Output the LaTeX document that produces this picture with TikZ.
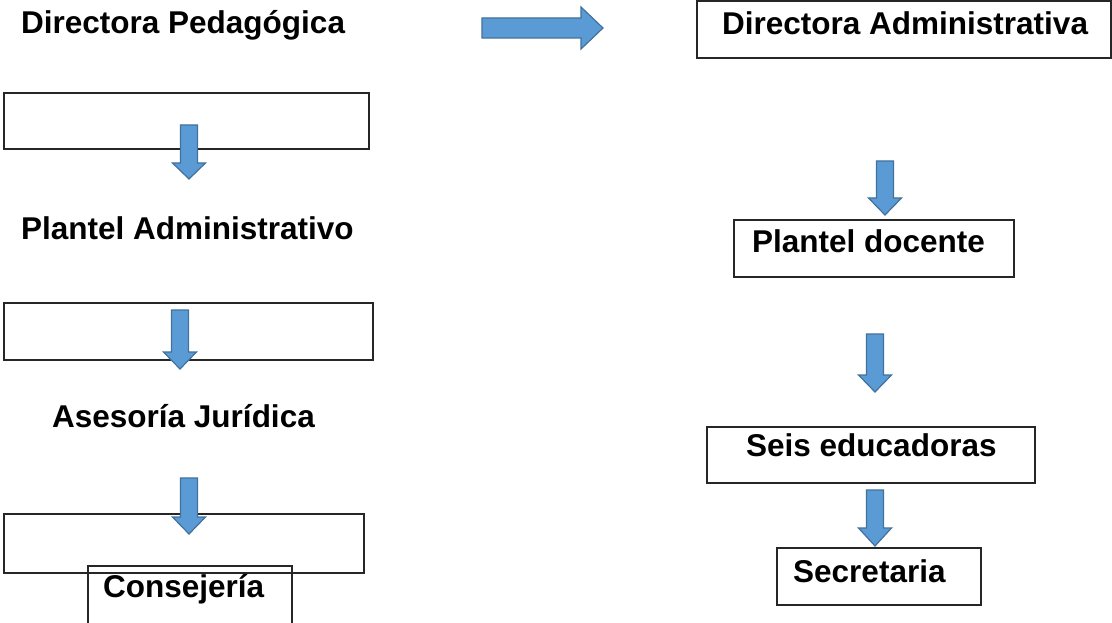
\documentclass[tikz,border=0pt]{standalone}
\usepackage{fontspec}
\setmainfont{Liberation Sans}
\definecolor{arrowfill}{HTML}{5B9BD5}
\definecolor{arrowline}{HTML}{41719C}
\newcommand\boxnode[5]{\node[box, minimum width={(#4-#2)*1pt}, minimum height={(#5-#3)*1pt}] (#1) at (#2,#3) {};}
\newcommand\downblock[5]{%
  \draw[blk] (#2-8.5,#3) -- (#2+8.5,#3) -- (#2+8.5,#4) -- (#2+16.5,#4) -- (#2,#5) -- (#2-16.5,#4) -- (#2-8.5,#4) -- cycle;
  \coordinate (#1) at (#2,#5);}
\begin{document}
\begin{tikzpicture}[x=1pt,y=-1pt,
  box/.style={draw=black!85, line width=1.1pt, inner sep=0pt, outer sep=0pt, anchor=north west},
  lbl/.style={font=\bfseries\fontsize{31.5}{36}\selectfont, inner sep=0pt, anchor=base west},
  blk/.style={fill=arrowfill, draw=arrowline, line width=1.2pt, line join=miter}]
\clip (0,0) rectangle (1112,623);
\fill[white] (0,0) rectangle (1112,623);
% boxes
\boxnode{b1}{4}{93}{369}{149}
\boxnode{b2}{4}{303}{373}{360}
\boxnode{b3}{4}{514}{364}{573}
\boxnode{bcons}{88}{566}{292}{628}
\boxnode{bda}{697}{1}{1111}{58}
\boxnode{bpd}{734}{220}{1014}{277}
\boxnode{bse}{707}{427}{1035}{483}
\boxnode{bsec}{777}{548}{981}{605}
% labels
\node[lbl] (dp) at (21,34) {Directora Pedagógica};
\node[lbl] (pa) at (21,240) {Plantel Administrativo};
\node[lbl] (aj) at (52,427) {Asesoría Jurídica};
\node[lbl] (cons) at (103,597) {Consejería};
\node[lbl] (da) at (722,35) {Directora Administrativa};
\node[lbl] (pd) at (752,252) {Plantel docente};
\node[lbl] (se) at (746,456) {Seis educadoras};
\node[lbl] (sec) at (793,582) {Secretaria};
% block arrows
\draw[blk] (482,18) -- (581,18) -- (581,7) -- (603,28) -- (581,49) -- (581,38) -- (482,38) -- cycle;
\coordinate (rtip) at (603,28);
\downblock{a1}{189}{125}{163}{179}
\downblock{a2}{180}{310}{352}{369}
\downblock{a3}{189}{478}{517}{534}
\downblock{a4}{885}{161}{198}{215}
\downblock{a5}{875}{334}{375}{392}
\downblock{a6}{875}{490}{528}{546}
\end{tikzpicture}
\end{document}
